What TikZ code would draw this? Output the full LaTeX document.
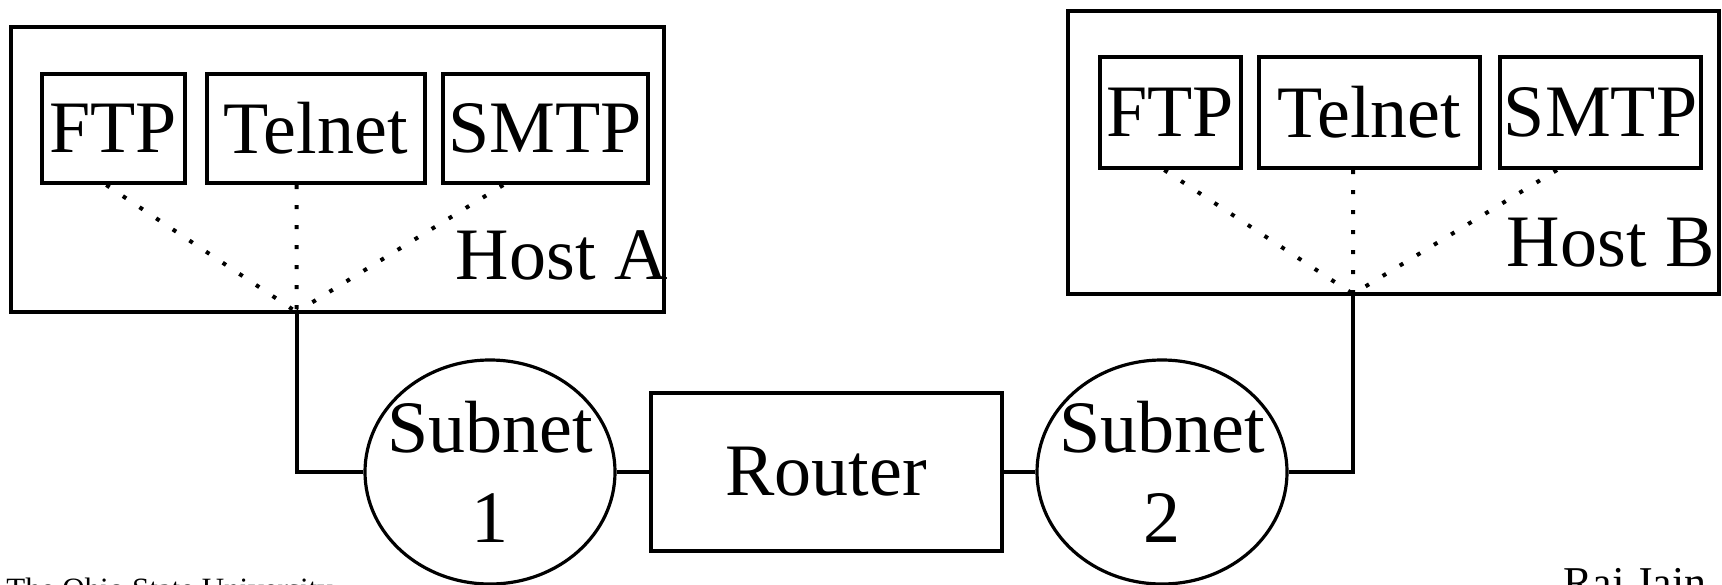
\documentclass[tikz,border=0pt]{standalone}
\usepackage{fontspec}
\setmainfont{Liberation Serif}
\usetikzlibrary{shapes.geometric}
\begin{document}
\begin{tikzpicture}[x=0.5pt,y=-0.5pt,
  big/.style={font=\fontsize{37}{45}\selectfont},
  appbox/.style={draw, line width=2pt, inner sep=0pt, big},
  hostbox/.style={draw, line width=2pt, inner sep=0pt},
  subnet/.style={draw, ellipse, line width=1.6pt, inner sep=0pt, minimum width=125pt, minimum height=112pt},
  wire/.style={line width=2pt},
  dots/.style={line width=2pt, dash pattern=on 2pt off 8pt},
  hostlabel/.style={big, inner sep=0pt, anchor=base east},
  foot/.style={inner sep=0pt}
]
\useasboundingbox (0,0) rectangle (1722,584);
\clip (0,0) rectangle (1722,584);

% Host A
\node[hostbox, minimum width=326.5pt, minimum height=142.5pt] (hostA) at (337.5,169.5) {};
\node[appbox, minimum width=71.25pt, minimum height=54.5pt] (ftpA) at (113.25,128.5) {FTP};
\node[appbox, minimum width=109.25pt, minimum height=54.5pt] (telA) at (315.75,128.5) {Telnet};
\node[appbox, minimum width=102.75pt, minimum height=54.5pt] (smtpA) at (545.25,128.5) {SMTP};
\node[hostlabel] (lblA) at (668,279) {Host A};
\coordinate (cA) at (296.5,312);

% Host B
\node[hostbox, minimum width=325.5pt, minimum height=141.5pt] (hostB) at (1393,152.5) {};
\node[appbox, minimum width=70.75pt, minimum height=55.5pt] (ftpB) at (1170.25,112.5) {FTP};
\node[appbox, minimum width=110.75pt, minimum height=55.5pt] (telB) at (1369.25,112.5) {Telnet};
\node[appbox, minimum width=100.5pt, minimum height=55.5pt] (smtpB) at (1600.5,112.5) {SMTP};
\node[hostlabel] (lblB) at (1715,266) {Host B};
\coordinate (cB) at (1353,294);

% Subnets and router
\node[subnet, label={[big, align=center, inner sep=0pt]center:Subnet\\1}] (s1) at (490,472) {};
\node[draw, line width=2pt, inner sep=0pt, minimum width=175.3pt, minimum height=79pt, big] (router) at (826.3,472) {Router};
\node[subnet, label={[big, align=center, inner sep=0pt]center:Subnet\\2}] (s2) at (1162,472) {};

% dotted internal links
\draw[dots] ([xshift=-3.5pt]ftpA.south) -- (cA);
\draw[dots] ([xshift=-9.6pt]telA.south) -- (cA);
\draw[dots] ([xshift=-21pt]smtpA.south) -- (cA);
\draw[dots] ([xshift=-3pt]ftpB.south) -- (cB);
\draw[dots] ([xshift=-8.1pt]telB.south) -- (cB);
\draw[dots] ([xshift=-21.75pt]smtpB.south) -- (cB);

% solid links
\draw[wire] (cA) |- (s1.west);
\draw[wire] (s1.east) -- (router.west);
\draw[wire] (router.east) -- (s2.west);
\draw[wire] (s2.east) -| (cB);

% footer
\node[foot, font=\fontsize{15.5}{18}\selectfont, anchor=base west] (osu) at (6,599) {The Ohio State University};
\node[foot, font=\fontsize{22}{26}\selectfont, anchor=base east] (raj) at (1707,597) {Raj Jain};
\end{tikzpicture}
\end{document}
